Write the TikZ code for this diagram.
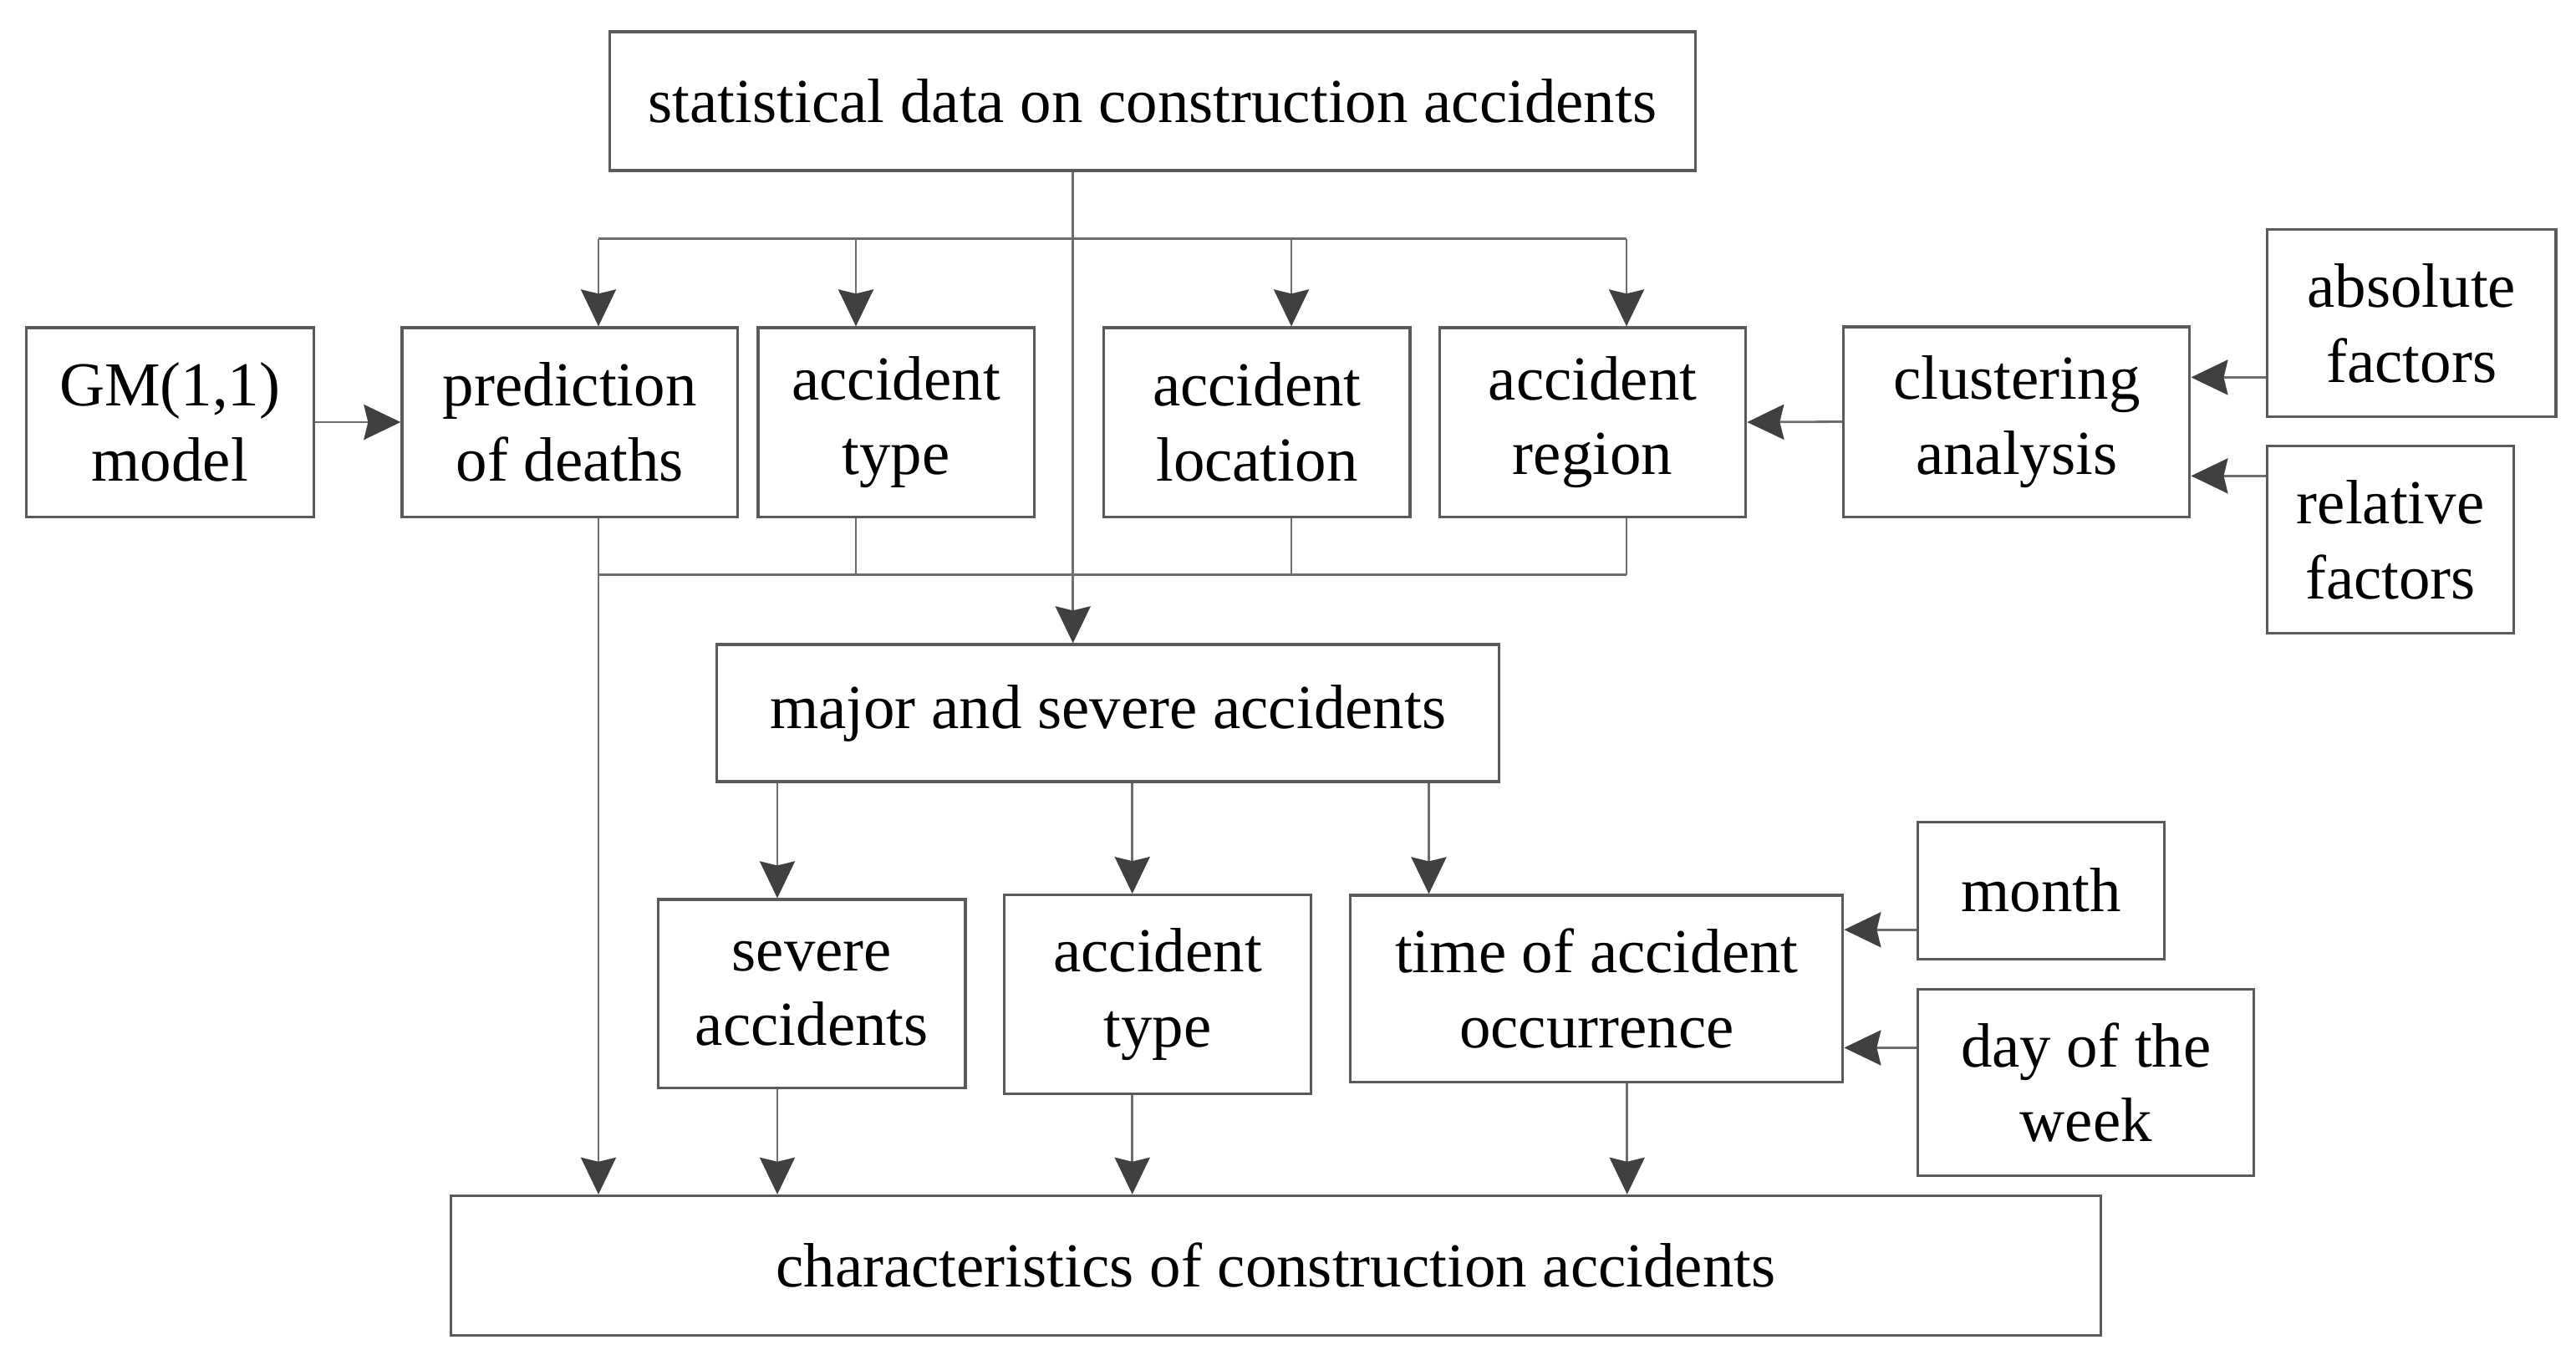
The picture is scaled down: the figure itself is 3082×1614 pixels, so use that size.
\documentclass[tikz,border=0pt]{standalone}
\usepackage{fontspec}
\setmainfont{Liberation Serif}
\usetikzlibrary{arrows.meta}
\definecolor{linec}{RGB}{110,110,110}
\definecolor{headc}{RGB}{64,64,64}
\definecolor{boxc}{RGB}{90,90,90}
\begin{document}
\begin{tikzpicture}[x=0.01cm,y=-0.01cm,
  box/.style={draw=boxc, line width=0.9pt, align=center, inner sep=0pt,
    font=\fontsize{21.3}{25.5}\selectfont},
  conn/.style={draw=linec, line width=0.8pt},
  arr/.style={conn, -{Stealth[length=0.44cm,width=0.42cm,inset=0.05cm,color=headc,fill=headc]}}]
\useasboundingbox (0,0) rectangle (3082,1614);

% boxes
\node[box, minimum width=12.98cm, minimum height=1.66cm] (top) at (1378.8,121) {statistical data on construction accidents};
\node[box, minimum width=3.434cm, minimum height=2.26cm] (gm) at (203.3,505) {GM(1,1)\\model};
\node[box, minimum width=4.015cm, minimum height=2.26cm] (pred) at (681.8,505) {prediction\\of deaths};
\node[box, minimum width=3.30cm, minimum height=2.26cm] (typeA) at (1072,505) {accident\\type};
\node[box, minimum width=3.661cm, minimum height=2.26cm] (loc) at (1503.8,505) {accident\\location};
\node[box, minimum width=3.661cm, minimum height=2.26cm] (reg) at (1905.6,505) {accident\\region};
\node[box, minimum width=4.141cm, minimum height=2.27cm] (clus) at (2412.7,504.5) {clustering\\analysis};
\node[box, minimum width=3.45cm, minimum height=2.239cm] (abs) at (2885.3,386.6) {absolute\\factors};
\node[box, minimum width=2.946cm, minimum height=2.239cm] (rel) at (2860.1,645.7) {relative\\factors};
\node[box, minimum width=9.35cm, minimum height=1.64cm] (major) at (1325.5,853) {major and severe accidents};
\node[box, minimum width=3.672cm, minimum height=2.255cm] (sev) at (971.3,1188.8) {severe\\accidents};
\node[box, minimum width=3.673cm, minimum height=2.373cm] (typeB) at (1385,1189.4) {accident\\type};
\node[box, minimum width=5.886cm, minimum height=2.235cm] (time) at (1910.3,1182.8) {time of accident\\occurrence};
\node[box, minimum width=2.946cm, minimum height=1.64cm] (month) at (2442.2,1065.3) {month};
\node[box, minimum width=4.018cm, minimum height=2.231cm] (day) at (2495.8,1294.9) {day of the\\week};
\node[box, minimum width=19.732cm, minimum height=1.666cm] (char) at (1526.4,1513.7) {characteristics of construction accidents};

% junction coordinates
\coordinate (d0) at (1283.7,285.7);
\coordinate (d1) at (716,285.7);
\coordinate (d2) at (1024,285.7);
\coordinate (d3) at (1545,285.7);
\coordinate (d4) at (1946,285.7);
\coordinate (c1) at (716,687.5);
\coordinate (c2) at (1024,687.5);
\coordinate (c3) at (1545,687.5);
\coordinate (c4) at (1946,687.5);
\coordinate (m1) at (930,900);
\coordinate (m2) at (1354.7,900);
\coordinate (m3) at (1709.5,900);
\coordinate (m4) at (1946.7,1350);
\coordinate (ya) at (2650,451.4);
\coordinate (yr) at (2650,569.3);
\coordinate (ym) at (2250,1112.2);
\coordinate (yd) at (2250,1253.4);

% main line
\draw[arr] (top.south -| d0) -- (major.north -| d0);
% distribution
\draw[conn] (d1) -- (d4);
\draw[arr] (d1) -- (pred.north -| d1);
\draw[arr] (d2) -- (typeA.north -| d2);
\draw[arr] (d3) -- (loc.north -| d3);
\draw[arr] (d4) -- (reg.north -| d4);
% side inputs
\draw[arr] (gm.east) -- (pred.west);
\draw[arr] (clus.west) -- (reg.east);
\draw[arr] (abs.west |- ya) -- (clus.east |- ya);
\draw[arr] (rel.west |- yr) -- (clus.east |- yr);
% collection
\draw[arr] (pred.south -| c1) -- (char.north -| c1);
\draw[conn] (typeA.south -| c2) -- (c2);
\draw[conn] (loc.south -| c3) -- (c3);
\draw[conn] (reg.south -| c4) -- (c4);
\draw[conn] (c1) -- (c4);
% major branches
\draw[arr] (major.south -| m1) -- (sev.north -| m1);
\draw[arr] (major.south -| m2) -- (typeB.north -| m2);
\draw[arr] (major.south -| m3) -- (time.north -| m3);
\draw[arr] (sev.south -| m1) -- (char.north -| m1);
\draw[arr] (typeB.south -| m2) -- (char.north -| m2);
\draw[arr] (time.south -| m4) -- (char.north -| m4);
\draw[arr] (month.west |- ym) -- (time.east |- ym);
\draw[arr] (day.west |- yd) -- (time.east |- yd);
\end{tikzpicture}
\end{document}
